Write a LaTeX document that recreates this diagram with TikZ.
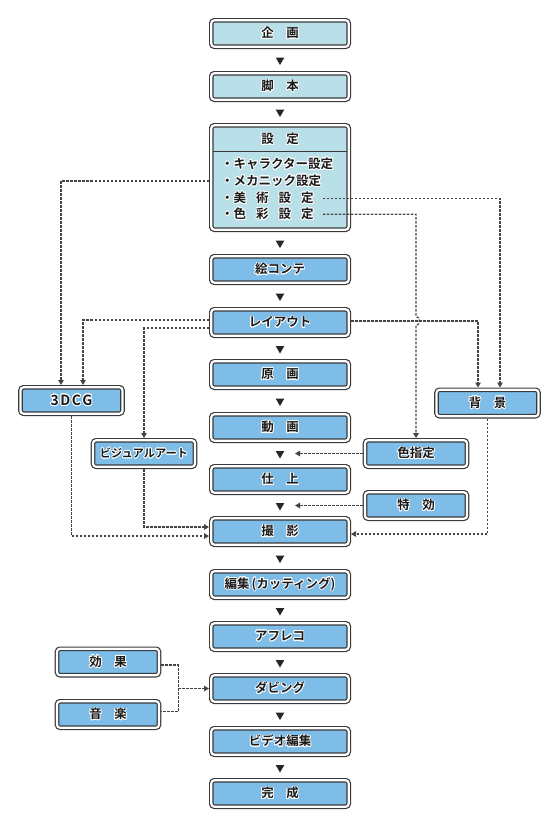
\documentclass[tikz,border=0pt]{standalone}
\usepackage{fontspec}
\setmainfont{Noto Sans CJK JP}[BoldFont={Noto Sans CJK JP Bold}]
\usepackage{contour}
\contourlength{0.8bp}
\usetikzlibrary{arrows.meta,shapes.geometric}
\definecolor{bd}{HTML}{3A3A3A}
\definecolor{lite}{HTML}{B9DFE8}
\definecolor{blu}{HTML}{7DBDE8}
\definecolor{ln}{HTML}{444444}
\definecolor{tx}{HTML}{1A1A1A}
\newcommand\lbl[1]{\contour{white}{#1}}
\tikzset{
  box/.style={draw=bd, line width=1.2bp, double=white, double distance=2.2bp,
    rounded corners=3bp, inner sep=0pt, outer sep=2.3bp, minimum height=26.4bp,
    text=tx, font=\bfseries\fontsize{12.5bp}{14bp}\selectfont},
  mainbox/.style={box, fill=blu, minimum width=137.4bp},
  litebox/.style={mainbox, fill=lite},
  sidebox/.style={box, fill=blu, minimum width=102bp},
  item/.style={anchor=west, inner sep=0pt, text=tx, font=\bfseries\fontsize{12.5bp}{14bp}\selectfont},
  tri/.style={regular polygon, regular polygon sides=3, shape border rotate=180,
    fill=black!85, inner sep=0pt, minimum size=10bp},
  dl/.style={draw=ln, line width=1.3bp, dash pattern=on 2.5bp off 1.5bp},
  dla/.style={dl, -{Triangle[length=5bp,width=5.5bp]}}
}
\begin{document}
\begin{tikzpicture}[x=1bp,y=-1bp]
\useasboundingbox[fill=white] (0,0) rectangle (558,828);
% main column
\node[litebox] (kik) at (280,33.5) {\lbl{企　画}};
\node[litebox] (kya) at (280,86.5) {\lbl{脚　本}};
\node[litebox, minimum height=104.4bp] (set) at (280,177.5) {};
\node[item, anchor=center] (seth) at (280,139.5) {\lbl{設　定}};
\coordinate (divy) at (280,151.7);
\draw[bd, line width=1.2bp] ([xshift=4bp]set.west |- divy) -- ([xshift=-4bp]set.east |- divy);
\node[item] (chr) at (221,164.3) {\lbl{・キャラクター設定}};
\node[item] (mek) at (221,181) {\lbl{・メカニック設定}};
\node[item] (bij) at (221,198.3) {\lbl{・美\hspace{10bp}術\hspace{10bp}設\hspace{10bp}定}};
\node[item] (shi) at (221,214.3) {\lbl{・色\hspace{10bp}彩\hspace{10bp}設\hspace{10bp}定}};
\node[mainbox] (eco) at (280,269.5) {\lbl{絵コンテ}};
\node[mainbox] (lay) at (280,322.5) {\lbl{レイアウト}};
\node[mainbox] (gen) at (280,374.5) {\lbl{原　画}};
\node[mainbox] (dou) at (280,427.5) {\lbl{動　画}};
\node[mainbox] (shia) at (280,479.5) {\lbl{仕　上}};
\node[mainbox] (sat) at (280,531.5) {\lbl{撮　影}};
\node[mainbox] (hen) at (280,584.5) {\lbl{編集\,(カッティング)}};
\node[mainbox] (afu) at (280,636.5) {\lbl{アフレコ}};
\node[mainbox] (dub) at (280,688.5) {\lbl{ダビング}};
\node[mainbox] (vid) at (280,741.5) {\lbl{ビデオ編集}};
\node[mainbox] (kan) at (280,793.5) {\lbl{完　成}};
% flow triangles
\node[tri] (t1) at (280,60) {};
\node[tri] (t2) at (280,112) {};
\node[tri] (t3) at (280,243) {};
\node[tri] (t4) at (280,296) {};
\node[tri] (t5) at (280,348.5) {};
\node[tri] (t6) at (280,401) {};
\node[tri] (t7) at (280,453.5) {};
\node[tri] (t8) at (280,505.5) {};
\node[tri] (t9) at (280,558) {};
\node[tri] (t10) at (280,610.5) {};
\node[tri] (t11) at (280,662.5) {};
\node[tri] (t12) at (280,715) {};
\node[tri] (t13) at (280,767.5) {};
% side boxes
\node[sidebox, font=\bfseries\fontsize{14bp}{16bp}\selectfont] (cg) at (71.5,400.5) {\lbl{3\kern1.5bp D\kern1.5bp C\kern1.5bp G}};
\node[sidebox, font=\bfseries\fontsize{11.25bp}{13bp}\selectfont] (vis) at (144,453.5) {\lbl{ビジュアルアート}};
\node[sidebox] (bg) at (487.5,403) {\lbl{背　景}};
\node[sidebox] (iro) at (416,453.5) {\lbl{色指定}};
\node[sidebox] (tok) at (416,505.5) {\lbl{特　効}};
\node[sidebox] (kou) at (108,662) {\lbl{効　果}};
\node[sidebox] (ong) at (108,714.5) {\lbl{音　楽}};
% connectors
\draw[dla] (set.west |- mek) -| ([xshift=-10.5bp]cg.north);
\draw[dla] ([yshift=2.5bp]lay.west) -| ([xshift=11.5bp]cg.north);
\draw[dla] ([yshift=-5.5bp]lay.west) -| (vis.north);
\draw[dla] ([yshift=1.5bp]lay.east) -| ([xshift=-9.5bp]bg.north);
\draw[dla] ([xshift=9bp]bij.east) -| ([xshift=12.5bp]bg.north);
\coordinate (cr) at ([yshift=1.5bp]lay.east -| iro.north);
\draw[dla] ([xshift=9bp]shi.east) -| ([yshift=4.5bp]cr)
  to[out=0,in=0,looseness=1.3] ([yshift=-4.5bp]cr) -- (iro.north);
\draw[dla] (cg.south) |- ([yshift=-4.5bp]sat.west);
\draw[dla] (vis.south) |- ([yshift=4.5bp]sat.west);
\draw[dla] (bg.south) |- ([yshift=-2.5bp]sat.east);
\coordinate (p1) at ([xshift=15bp]t7.center);
\coordinate (p2) at ([xshift=15bp]t8.center);
\draw[dla] (iro.west) -- (p1);
\draw[dla] (tok.west) -- (p2);
\coordinate (jn) at ([xshift=17bp]kou.east |- dub.west);
\draw[dl] ([yshift=-3bp]kou.east) -| (jn) |- ([yshift=3bp]ong.east);
\draw[dla] (jn) -- (dub.west);
\end{tikzpicture}
\end{document}
